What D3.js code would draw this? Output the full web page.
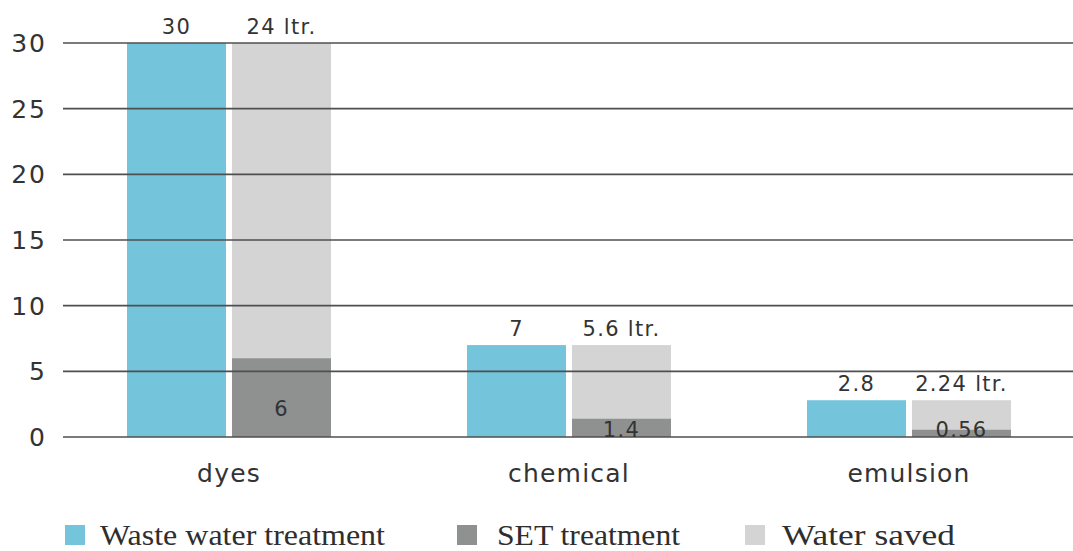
<!DOCTYPE html>
<html>
<head>
<meta charset="utf-8">
<script src="https://cdn.jsdelivr.net/npm/d3@7"></script>
<style>
  body { margin: 0; background: #fff; }
  svg { display: block; }
</style>
</head>
<body>
<div id="chart"></div>
<script>
// data
const categories = ['dyes', 'chemical', 'emulsion'];
const wasteWater = [30, 7, 2.8];
const setTreatment = [6, 1.4, 0.56];
const waterSaved = [24, 5.6, 2.24];
const savedLabels = ['24 ltr.', '5.6 ltr.', '2.24 ltr.'];
const yTickValues = [0, 5, 10, 15, 20, 25, 30];
const legendNames = ['Waste water treatment', 'SET treatment', 'Water saved'];

const width = 1073, height = 551;
const colors = { blue: '#74c5dc', dark: '#8f9090', light: '#d4d4d4', grid: '#4f4f4f', text: '#333' };
const sans = '"DejaVu Sans", Verdana, sans-serif';

const svg = d3.select('#chart').append('svg')
  .attr('width', width)
  .attr('height', height);

const x = d3.scaleBand()
  .domain(categories)
  .range([59, 1079]);

const y = d3.scaleLinear()
  .domain([0, 30])
  .range([437, 43]);

const barW = 99, gap = 6;

const rows = categories.map((c, i) => ({
  cat: c,
  waste: wasteWater[i],
  set: setTreatment[i],
  saved: waterSaved[i],
  savedLabel: savedLabels[i]
}));

const bars = svg.append('g');

// waste water bars (left)
bars.selectAll('.waste')
  .data(rows)
  .enter().append('rect')
    .attr('x', d => x(d.cat) + x.bandwidth() / 2 - barW - gap / 2)
    .attr('y', d => y(d.waste))
    .attr('width', barW)
    .attr('height', d => y(0) - y(d.waste))
    .style('fill', colors.blue);

// stacked right bar: SET on bottom, water saved on top
bars.selectAll('.saved')
  .data(rows)
  .enter().append('rect')
    .attr('x', d => x(d.cat) + x.bandwidth() / 2 + gap / 2)
    .attr('y', d => y(d.set + d.saved))
    .attr('width', barW)
    .attr('height', d => y(d.set) - y(d.set + d.saved))
    .style('fill', colors.light);

bars.selectAll('.set')
  .data(rows)
  .enter().append('rect')
    .attr('x', d => x(d.cat) + x.bandwidth() / 2 + gap / 2)
    .attr('y', d => y(d.set))
    .attr('width', barW)
    .attr('height', d => y(0) - y(d.set))
    .style('fill', colors.dark);

// gridlines sit over the bars
const grid = svg.append('g');
grid.selectAll('line')
  .data(yTickValues)
  .enter().append('line')
    .attr('x1', 63)
    .attr('x2', width)
    .attr('y1', d => y(d))
    .attr('y2', d => y(d))
    .style('stroke', colors.grid)
    .style('stroke-width', 1.6);

grid.selectAll('text')
  .data(yTickValues)
  .enter().append('text')
    .attr('x', 47)
    .attr('y', d => y(d))
    .attr('dy', '0.36em')
    .attr('text-anchor', 'end')
    .style('font-family', sans)
    .style('font-size', '25px')
    .style('letter-spacing', '2px')
    .style('fill', colors.text)
    .text(d => d);

// value labels
const labels = svg.append('g')
  .style('font-family', sans)
  .style('font-size', '21px')
  .style('letter-spacing', '1.3px')
  .style('fill', colors.text)
  .attr('text-anchor', 'middle');

labels.selectAll('.lw')
  .data(rows)
  .enter().append('text')
    .attr('x', d => x(d.cat) + x.bandwidth() / 2 - barW / 2 - gap / 2)
    .attr('y', d => y(d.waste) - 9)
    .text(d => d.waste);

labels.selectAll('.ls')
  .data(rows)
  .enter().append('text')
    .attr('x', d => x(d.cat) + x.bandwidth() / 2 + barW / 2 + gap / 2)
    .attr('y', d => y(d.set + d.saved) - 9)
    .text(d => d.savedLabel);

labels.selectAll('.lset')
  .data(rows)
  .enter().append('text')
    .attr('x', d => x(d.cat) + x.bandwidth() / 2 + barW / 2 + gap / 2)
    .attr('y', d => Math.min(y(d.set / 2) + 18, y(0)))
    .text(d => d.set);

// category labels
svg.append('g').selectAll('text')
  .data(categories)
  .enter().append('text')
    .attr('x', d => x(d) + x.bandwidth() / 2)
    .attr('y', 482)
    .attr('text-anchor', 'middle')
    .style('font-family', sans)
    .style('font-size', '25px')
    .style('letter-spacing', '1.2px')
    .style('fill', colors.text)
    .text(d => d);

// legend
const legendX = [65, 457, 745];
const legendTextX = [35, 40, 37];
const legendTextW = [285, 183, 173];
const legendColors = [colors.blue, colors.dark, colors.light];
const legend = svg.append('g').selectAll('g')
  .data(legendNames)
  .enter().append('g')
    .attr('transform', (d, i) => `translate(${legendX[i]}, 545)`);

legend.append('rect')
  .attr('x', 0)
  .attr('y', -20)
  .attr('width', 20)
  .attr('height', 20)
  .style('fill', (d, i) => legendColors[i]);

legend.append('text')
  .attr('x', (d, i) => legendTextX[i])
  .attr('y', 0)
  .attr('textLength', (d, i) => legendTextW[i])
  .attr('lengthAdjust', 'spacingAndGlyphs')
  .style('font-family', '"Liberation Serif", "DejaVu Serif", serif')
  .style('font-size', '29px')
  .style('fill', '#2e2e2e')
  .text(d => d);
</script>
</body>
</html>
